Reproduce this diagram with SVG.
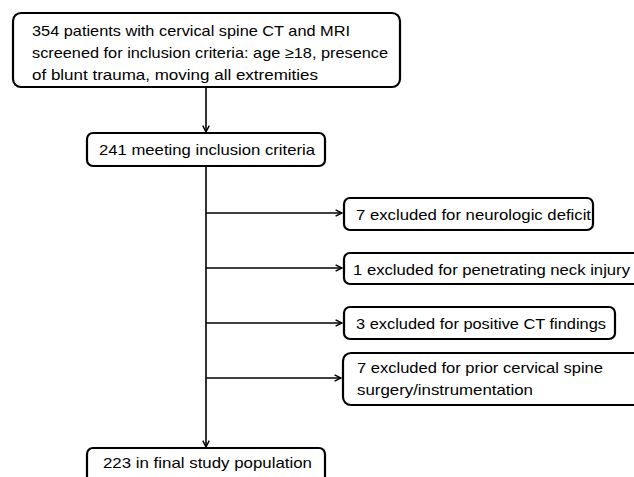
<svg xmlns="http://www.w3.org/2000/svg" width="634" height="477" viewBox="0 0 634 477">
<style>
.box{fill:#fff;stroke:#000;stroke-width:2.2}
.t{font-family:"Liberation Sans",Arial,sans-serif;font-size:15px;fill:#000}
.ln{fill:none;stroke:#000;stroke-width:1.6}
</style>
<defs>
<marker id="ah" viewBox="0 0 10 10" refX="9" refY="5" markerWidth="8" markerHeight="8" markerUnits="userSpaceOnUse" orient="auto">
<path d="M1,1 L9,5 L1,9" fill="none" stroke="#000" stroke-width="1.8"/>
</marker>
</defs>
<rect width="634" height="477" fill="#fff"/>
<g id="connectors">
<line class="ln" x1="206" y1="87" x2="206" y2="132" marker-end="url(#ah)"/>
<line class="ln" x1="206" y1="166" x2="206" y2="447" marker-end="url(#ah)"/>
<line class="ln" x1="206" y1="213" x2="342" y2="213" marker-end="url(#ah)"/>
<line class="ln" x1="206" y1="268" x2="342" y2="268" marker-end="url(#ah)"/>
<line class="ln" x1="206" y1="323" x2="342" y2="323" marker-end="url(#ah)"/>
<line class="ln" x1="206" y1="378" x2="341" y2="378" marker-end="url(#ah)"/>
</g>
<g id="screened">
<rect class="box" x="13" y="13" width="387" height="74" rx="8"/>
<text class="t" x="32" y="36" textLength="318" lengthAdjust="spacingAndGlyphs">354 patients with cervical spine CT and MRI</text>
<text class="t" x="32" y="58" textLength="356" lengthAdjust="spacingAndGlyphs">screened for inclusion criteria: age ≥18, presence</text>
<text class="t" x="32" y="80" textLength="286" lengthAdjust="spacingAndGlyphs">of blunt trauma, moving all extremities</text>
</g>
<g id="meeting">
<rect class="box" x="87" y="133" width="238" height="33" rx="6"/>
<text class="t" x="99" y="155" textLength="216" lengthAdjust="spacingAndGlyphs">241 meeting inclusion criteria</text>
</g>
<g id="excl-neuro">
<rect class="box" x="344" y="198" width="249" height="32" rx="6"/>
<text class="t" x="356" y="220" textLength="235" lengthAdjust="spacingAndGlyphs">7 excluded for neurologic deficit</text>
</g>
<g id="excl-penetrating">
<rect class="box" x="344" y="253" width="300" height="31" rx="6"/>
<text class="t" x="353" y="275" textLength="277" lengthAdjust="spacingAndGlyphs">1 excluded for penetrating neck injury</text>
</g>
<g id="excl-ct">
<rect class="box" x="344" y="307" width="271" height="32" rx="6"/>
<text class="t" x="356" y="329" textLength="250" lengthAdjust="spacingAndGlyphs">3 excluded for positive CT findings</text>
</g>
<g id="excl-surgery">
<rect class="box" x="343" y="353" width="300" height="52" rx="8"/>
<text class="t" x="357" y="373" textLength="246" lengthAdjust="spacingAndGlyphs">7 excluded for prior cervical spine</text>
<text class="t" x="357" y="395" textLength="176" lengthAdjust="spacingAndGlyphs">surgery/instrumentation</text>
</g>
<g id="final">
<rect class="box" x="87" y="448" width="238" height="40" rx="6"/>
<text class="t" x="103" y="468" textLength="209" lengthAdjust="spacingAndGlyphs">223 in final study population</text>
</g>
</svg>
